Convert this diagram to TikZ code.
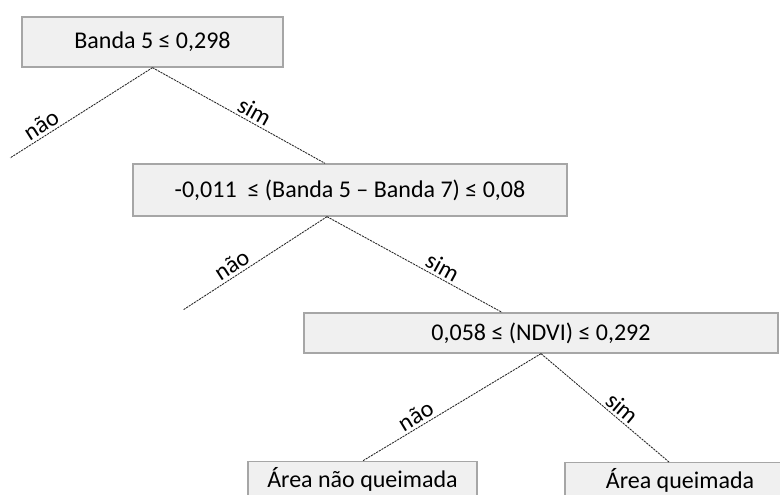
\documentclass[tikz,border=0pt]{standalone}
\usepackage{fontspec}
\setmainfont{Carlito}
\usetikzlibrary{positioning, calc}

\begin{document}
\begin{tikzpicture}[
    x=0.75pt, y=-0.75pt,
    font=\fontsize{18}{21}\selectfont,
    box/.style={rectangle, draw=black!35, fill=black!6, line width=1pt, align=center},
    branch/.style={draw=black!85, line width=0.65pt, dash pattern=on 1.6pt off 0.7pt},
    lbl/.style={sloped, above, inner sep=2pt}
  ]
    % Picture frame
    \clip (0,0) rectangle (780,495);

    % Conditions
    \node[box, minimum width=195.75pt, minimum height=37.5pt] (band5) at (152.5, 42) {Banda 5 ≤ 0,298};
    \node[box, minimum width=325.5pt, minimum height=39pt] (diff) at (350, 190) {-0,011\ \ ≤ (Banda 5 – Banda 7) ≤ 0,08};
    \node[box, minimum width=355.5pt, minimum height=30pt] (ndvi) at (541, 333) {0,058 ≤ (NDVI) ≤ 0,292};

    % Leaves
    \node[box, minimum width=171.75pt, minimum height=26pt] (naoq) at (362.5, 479) {Área não queimada};
    \node[box, minimum width=172.5pt, minimum height=26pt] (queim) at (680, 480) {Área queimada};

    % Open ends
    \coordinate (nao1) at (10, 158);
    \coordinate (nao2) at (183, 310);

    % Branches
    \draw[branch] (band5.south) -- node[lbl, pos=0.74] {não} (nao1);
    \draw[branch] (band5.south) -- node[lbl, pos=0.56] {sim} ($(diff.north)+(-25,0)$);
    \draw[branch] ($(diff.south)+(-23,0)$) -- node[lbl, pos=0.62] {não} (nao2);
    \draw[branch] ($(diff.south)+(-23,0)$) -- node[lbl, pos=0.63] {sim} ($(ndvi.north)+(-39,0)$);
    \draw[branch] (ndvi.south) -- node[lbl, pos=0.67] {não} (naoq.north);
    \draw[branch] (ndvi.south) -- node[lbl, pos=0.58] {sim} ($(queim.north)+(-11,0)$);
  \end{tikzpicture}
\end{document}
